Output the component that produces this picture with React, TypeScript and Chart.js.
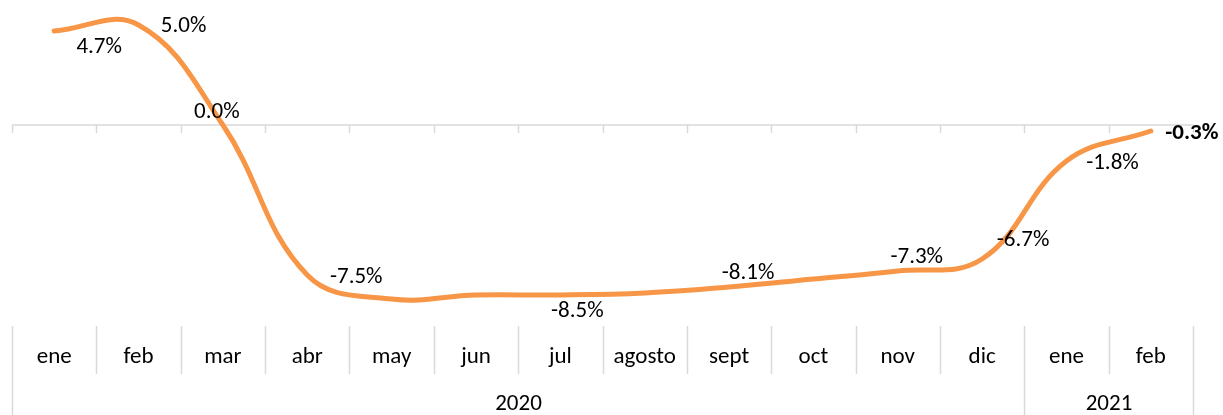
import React, { useEffect, useRef } from "react";
import { Chart, registerables } from "chart.js";

Chart.register(...registerables);

const months = ["ene", "feb", "mar", "abr", "may", "jun", "jul", "agosto", "sept", "oct", "nov", "dic", "ene", "feb"];
const yearLabels = ["2020", "2021"];
const yearSpans = [12, 2];
const values = [4.7, 5.0, 0.0, -7.5, -8.7, -8.5, -8.5, -8.4, -8.1, -7.7, -7.3, -6.7, -1.8, -0.3];
const labelText = ["4.7%", "5.0%", "0.0%", "-7.5%", "", "", "-8.5%", "", "-8.1%", "", "-7.3%", "-6.7%", "-1.8%", "-0.3%"];
const boldLabelIndex = 13;

// style: label offsets relative to their point (px)
const labelOffsets: [number, number][] = [
  [45, 16], [45, 1], [-6, -13], [49, 2], [0, 0], [0, 0], [17, 16], [0, 0],
  [19, -14], [0, 0], [19, -14], [41, -19], [46, 2], [41, 2],
];

const FONT = "Calibri, Carlito, Lato, sans-serif";
const FONT_SIZE = 23;
const GRID = "#d9d9d9";

const axisPlugin = {
  id: "customAxis",
  beforeDatasetsDraw(chart: any) {
    const { ctx, chartArea, scales } = chart;
    const x = scales.x;
    const y0 = scales.y.getPixelForValue(0);
    const n = months.length;
    const step = (chartArea.right - chartArea.left) / n;
    ctx.save();
    ctx.strokeStyle = GRID;
    ctx.lineWidth = 1.5;
    ctx.beginPath();
    ctx.moveTo(chartArea.left, y0);
    ctx.lineTo(chartArea.right, y0);
    for (let i = 0; i <= n; i++) {
      const px = Math.round(x.getPixelForValue(0) - step / 2 + i * step) + 0.5;
      ctx.moveTo(px, y0);
      ctx.lineTo(px, y0 + 8);
    }
    ctx.stroke();
    ctx.restore();
  },
  afterDraw(chart: any) {
    const { ctx, chartArea, scales } = chart;
    const x = scales.x;
    const y = scales.y;
    const n = months.length;
    const step = (chartArea.right - chartArea.left) / n;
    const boundary = (i: number) => Math.round(x.getPixelForValue(0) - step / 2 + i * step) + 0.5;
    ctx.save();
    ctx.strokeStyle = GRID;
    ctx.lineWidth = 1.5;
    const yearEdges = new Set<number>();
    let acc = 0;
    yearEdges.add(0);
    yearSpans.forEach((s) => { acc += s; yearEdges.add(acc); });
    ctx.beginPath();
    for (let i = 0; i <= n; i++) {
      const px = boundary(i);
      ctx.moveTo(px, 326);
      ctx.lineTo(px, yearEdges.has(i) ? 415 : 374);
    }
    ctx.stroke();
    ctx.fillStyle = "#000";
    ctx.textAlign = "center";
    ctx.textBaseline = "middle";
    ctx.font = `${FONT_SIZE}px ${FONT}`;
    months.forEach((m, i) => {
      ctx.fillText(m, x.getPixelForValue(i), 357);
    });
    let start = 0;
    yearLabels.forEach((yl, k) => {
      const a = boundary(start);
      const b = boundary(start + yearSpans[k]);
      ctx.fillText(yl, (a + b) / 2, 404);
      start += yearSpans[k];
    });
    values.forEach((v, i) => {
      const t = labelText[i];
      if (!t) return;
      const [dx, dy] = labelOffsets[i];
      ctx.font = `${i === boldLabelIndex ? "bold " : ""}${FONT_SIZE}px ${FONT}`;
      ctx.fillText(t, x.getPixelForValue(i) + dx, y.getPixelForValue(v) + dy);
    });
    ctx.restore();
  },
};

export default function App() {
  const ref = useRef<HTMLCanvasElement>(null);
  useEffect(() => {
    if (!ref.current) return;
    const chart = new Chart(ref.current, {
      type: "line",
      data: {
        labels: months,
        datasets: [
          {
            data: values,
            borderColor: "#F79646",
            borderWidth: 5,
            pointRadius: 0,
            tension: 0.4,
            borderCapStyle: "round",
            clip: false as any,
            fill: false,
          },
        ],
      },
      options: {
        animation: false,
        responsive: false,
        devicePixelRatio: 1,
        layout: { padding: { left: 12, right: 30, top: 10, bottom: 95 } },
        plugins: { legend: { display: false }, tooltip: { enabled: false } },
        scales: {
          x: { type: "category", display: false, offset: true },
          y: { display: false, min: -9.75, max: 5.75 },
        },
      },
      plugins: [axisPlugin],
    });
    return () => chart.destroy();
  }, []);
  return (
    <div style={{ position: "fixed", left: 0, top: 0, width: 1223, height: 415, background: "#fff" }}>
      <canvas ref={ref} width={1223} height={415} style={{ width: 1223, height: 415 }} />
    </div>
  );
}
